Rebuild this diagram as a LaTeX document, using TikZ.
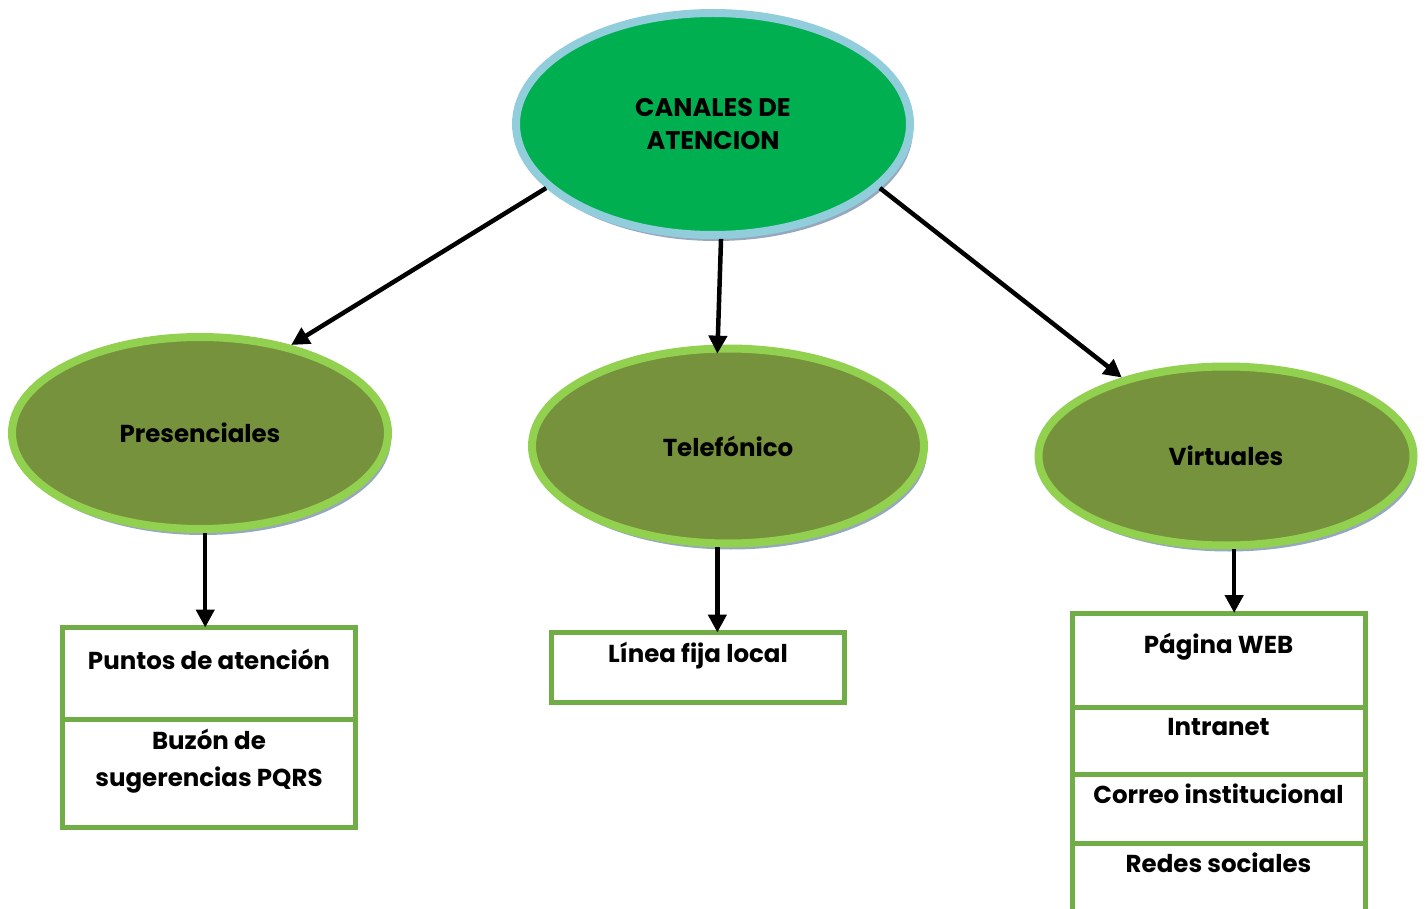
\documentclass[tikz,border=0pt]{standalone}
\usepackage{fontspec}
\setmainfont{Poppins}
\usetikzlibrary{arrows.meta,positioning,calc,shapes.geometric,shadows}
\definecolor{topgreen}{RGB}{0,176,80}
\definecolor{topblue}{RGB}{146,205,220}
\definecolor{olivefill}{RGB}{118,146,60}
\definecolor{limeline}{RGB}{146,208,80}
\definecolor{boxgreen}{RGB}{112,173,71}
\definecolor{shadowgray}{RGB}{150,168,188}

\begin{document}
\begin{tikzpicture}[x=1pt,y=-1pt,
  oval/.style={ellipse,draw=limeline,fill=olivefill,line width=8pt,inner sep=0pt,font=\fontsize{24.5}{33}\selectfont\bfseries,align=center,drop shadow={shadow xshift=3pt,shadow yshift=-6pt,fill=shadowgray,opacity=1}},
  cell/.style={rectangle,draw=boxgreen,line width=5pt,minimum width=293pt,anchor=north west,inner sep=0pt,outer sep=0pt},
  lbl/.style={font=\fontsize{24.5}{37}\selectfont\bfseries,align=center,inner sep=0pt,anchor=base},
  arr/.style={-{Triangle[length=18pt,width=18pt]},line width=4.5pt}]
\useasboundingbox (0,0) rectangle (1427,909);
% ovals
\node[oval,draw=topblue,fill=topgreen,minimum width=394pt,minimum height=222pt,font=\fontsize{25.5}{33}\selectfont\bfseries] (canal) at (713,124) {CANALES DE\\ATENCION};
\node[oval,minimum width=376pt,minimum height=192pt] (pres) at (200,433) {Presenciales};
\node[oval,minimum width=392pt,minimum height=195pt] (tel) at (728,446) {Telefónico};
\node[oval,minimum width=375pt,minimum height=179pt] (virt) at (1226,456) {Virtuales};
% boxes
\node[cell,minimum height=91.5pt] (puntos) at (62.5,627.5) {};
\node[cell,minimum height=108.5pt] (buzon) at (puntos.south west) {};
\node[cell,minimum height=70pt] (linea) at (551.5,632.5) {};
\node[cell,minimum height=94pt] (web) at (1072,613) {};
\node[cell,minimum height=67pt] (intra) at (web.south west) {};
\node[cell,minimum height=69pt] (correo) at (intra.south west) {};
\node[cell,minimum height=80pt] (redes) at (correo.south west) {};
\node[lbl] (puntostxt) at ($(puntos.north)+(0,42)$) {Puntos de atención};
\node[lbl] (buzontxt) at ($(buzon.north)+(0,67)$) {Buzón de\\sugerencias PQRS};
\node[lbl] (lineatxt) at ($(linea.north)+(0,30)$) {Línea fija local};
\node[lbl] (webtxt) at ($(web.north)+(0,40)$) {Página WEB};
\node[lbl] (intratxt) at ($(intra.north)+(0,28)$) {Intranet};
\node[lbl] (correotxt) at ($(correo.north)+(0,29)$) {Correo institucional};
\node[lbl] (redestxt) at ($(redes.north)+(0,29)$) {Redes sociales};
% arrows
\draw[arr] (canal.-159) -- (pres.44);
\draw[arr] (canal.-86) -- ($(tel.96)+(0,9)$);
\draw[arr] (canal.-21) -- (virt.143);
\draw[arr] (pres.-87) -- (pres.-87 |- puntos.north);
\draw[arr] (tel.-96) -- (tel.-96 |- linea.north);
\draw[arr] (virt.-85) -- (virt.-85 |- web.north);
\end{tikzpicture}
\end{document}
